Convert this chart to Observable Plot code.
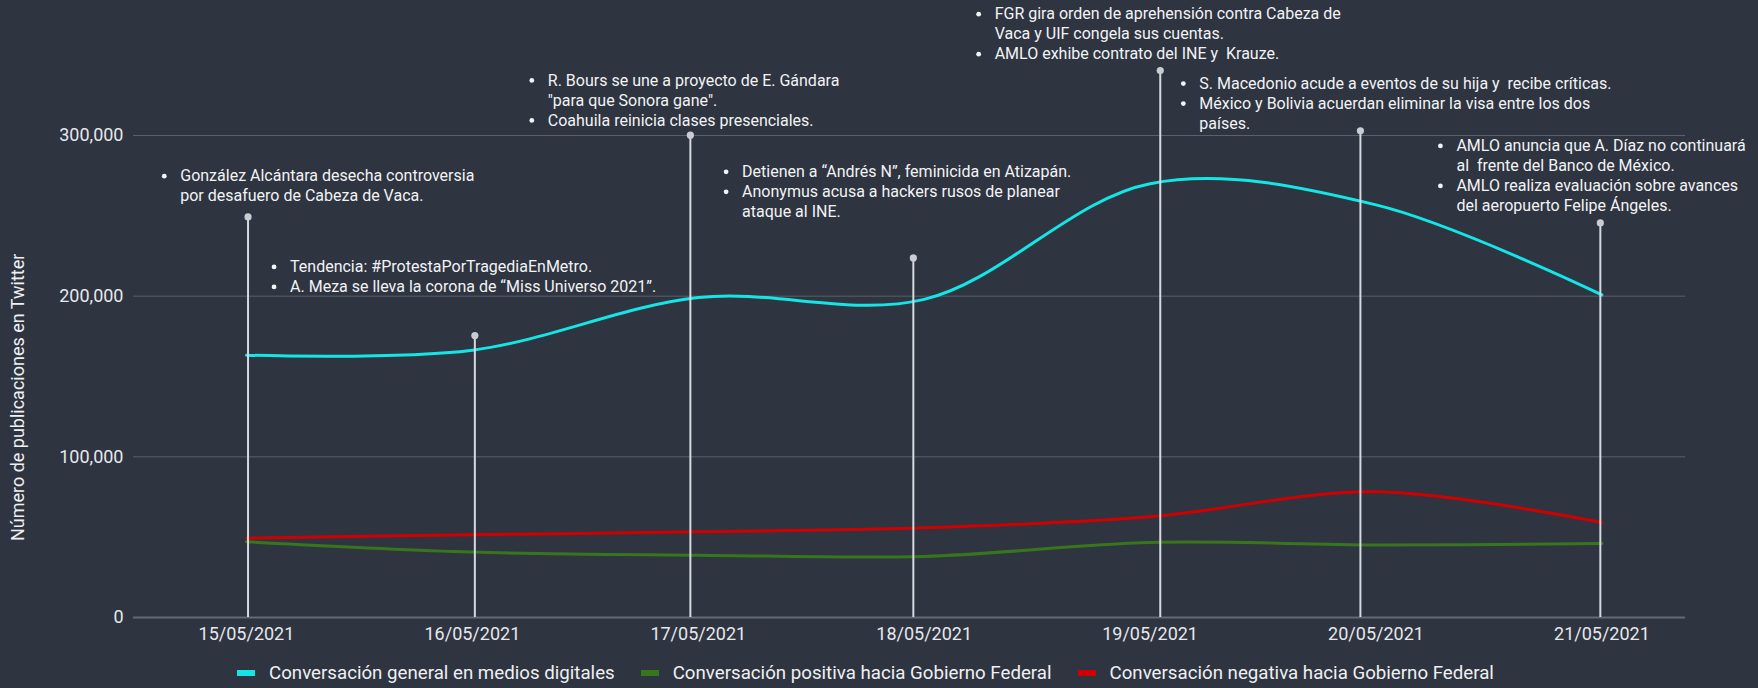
<!DOCTYPE html>
<html>
<head>
<meta charset="utf-8">
<script src="https://cdn.jsdelivr.net/npm/d3@7"></script>
<script src="https://cdn.jsdelivr.net/npm/@observablehq/plot@0.6"></script>
<style>
  html, body { margin: 0; padding: 0; background: #2e3440; }
  body { width: 1758px; height: 688px; overflow: hidden; font-family: Roboto, sans-serif; }
  #legend { display: flex; align-items: center; height: 46px; padding-left: 237px; gap: 26px; color: #eef0f3; font-size: 18.7px; }
  #legend .item { display: flex; align-items: center; gap: 14px; }
  #legend .sw { width: 18px; height: 6px; }
</style>
</head>
<body>
<div id="chart"></div>
<div id="legend"></div>
<script>
// ---- data ----
const dates = ["15/05/2021", "16/05/2021", "17/05/2021", "18/05/2021", "19/05/2021", "20/05/2021", "21/05/2021"];
const general = [163300, 166400, 199100, 198000, 270000, 256800, 200800];
const positiva = [47100, 40700, 38800, 38000, 46700, 45200, 46000];
const negativa = [49400, 51500, 53300, 55800, 62700, 78200, 59100];

const seriesNames = [
  "Conversación general en medios digitales",
  "Conversación positiva hacia Gobierno Federal",
  "Conversación negativa hacia Gobierno Federal"
];
const seriesColors = ["#14e6e6", "#38761d", "#d10000"];

const yTicks = [0, 100000, 200000, 300000];

// event markers (position along the date axis, height in publications)
const eventX = [0.007, 1.011, 1.965, 2.952, 4.045, 4.931, 5.993];
const eventY = [249300, 175500, 300200, 223800, 340400, 302900, 245600];

// annotation anchors (date-axis position of text start, value at first line)
const noteX = [-0.293, 0.193, 1.334, 2.194, 3.312, 4.218, 5.356];
const noteY = [274700, 218200, 334300, 277400, 375500, 332300, 293500];
const noteItems = [
  [["González Alcántara desecha controversia", "por desafuero de Cabeza de Vaca."]],
  [["Tendencia: #ProtestaPorTragediaEnMetro."], ["A. Meza se lleva la corona de “Miss Universo 2021”."]],
  [["R. Bours se une a proyecto de E. Gándara", "\"para que Sonora gane\"."], ["Coahuila reinicia clases presenciales."]],
  [["Detienen a “Andrés N”, feminicida en Atizapán."], ["Anonymus acusa a hackers rusos de planear", "ataque al INE."]],
  [["FGR gira orden de aprehensión contra Cabeza de", "Vaca y UIF congela sus cuentas."], ["AMLO exhibe contrato del INE y  Krauze."]],
  [["S. Macedonio acude a eventos de su hija y  recibe críticas."], ["México y Bolivia acuerdan eliminar la visa entre los dos", "países."]],
  [["AMLO anuncia que A. Díaz no continuará", "al  frente del Banco de México."], ["AMLO realiza evaluación sobre avances", "del aeropuerto Felipe Ángeles."]]
];

// ---- build tables ----
const rows = [];
[general, positiva, negativa].forEach((vals, s) => {
  vals.forEach((v, i) => rows.push({series: seriesNames[s], i, value: v}));
});
const events = eventX.map((x, k) => ({x, y: eventY[k]}));
const noteLines = [];
noteItems.forEach((items, k) => {
  let line = 0;
  items.forEach(item => {
    item.forEach((t, j) => {
      noteLines.push({x: noteX[k], y: noteY[k], line, text: t, bullet: j === 0});
      line++;
    });
  });
});
const LINE = 20;
const maxLines = d3.max(noteLines, d => d.line) + 1;
const noteMarks = [];
for (let l = 0; l < maxLines; l++) {
  const sub = noteLines.filter(d => d.line === l);
  noteMarks.push(Plot.text(sub, {x: "x", y: "y", text: "text", dy: l * LINE, textAnchor: "start", fontSize: 16, fill: "#f2f3f5"}));
  noteMarks.push(Plot.dot(sub.filter(d => d.bullet), {x: "x", y: "y", dy: l * LINE, dx: -16, r: 2.4, fill: "#f2f3f5", stroke: "none"}));
}

const chart = Plot.plot({
  width: 1758,
  height: 650,
  marginLeft: 133,
  marginRight: 73,
  marginTop: 135,
  marginBottom: 33,
  style: {background: "#2e3440", color: "#e6e8ec", fontFamily: "Roboto, sans-serif", overflow: "visible"},
  x: {type: "linear", domain: [-0.5, 6.37]},
  y: {domain: [0, 300000]},
  marks: [
    Plot.gridY(yTicks, {stroke: "#5a616d", strokeOpacity: 1, strokeWidth: 1}),
    Plot.ruleY([0], {stroke: "#626a77", strokeWidth: 2}),
    Plot.axisY(yTicks, {tickFormat: d3.format(","), tickSize: 0, tickPadding: 10, fontSize: 18, label: null, fill: "#e6e8ec"}),
    Plot.axisX(d3.range(dates.length), {tickFormat: i => dates[i], tickSize: 0, tickPadding: 10, fontSize: 18, label: null, fill: "#e6e8ec"}),
    Plot.text(["Número de publicaciones en Twitter"], {x: -0.5, y: 137000, dx: -115, rotate: -90, fontSize: 18, fill: "#eef0f3"}),
    Plot.line(rows, {x: "i", y: "value", z: "series", stroke: "series", strokeWidth: 3, curve: "catmull-rom"}),
    Plot.ruleX(events, {x: "x", y1: 0, y2: "y", stroke: "#d6d9df", strokeWidth: 2}),
    Plot.dot(events, {x: "x", y: "y", r: 3.6, fill: "#c9ccd3", stroke: "none"}),
    ...noteMarks
  ],
  color: {domain: seriesNames, range: seriesColors}
});
document.getElementById("chart").appendChild(chart);

const legend = d3.select("#legend");
seriesNames.forEach((n, k) => {
  const it = legend.append("div").attr("class", "item");
  it.append("div").attr("class", "sw").style("background", seriesColors[k]);
  it.append("span").text(n);
});
</script>
</body>
</html>
